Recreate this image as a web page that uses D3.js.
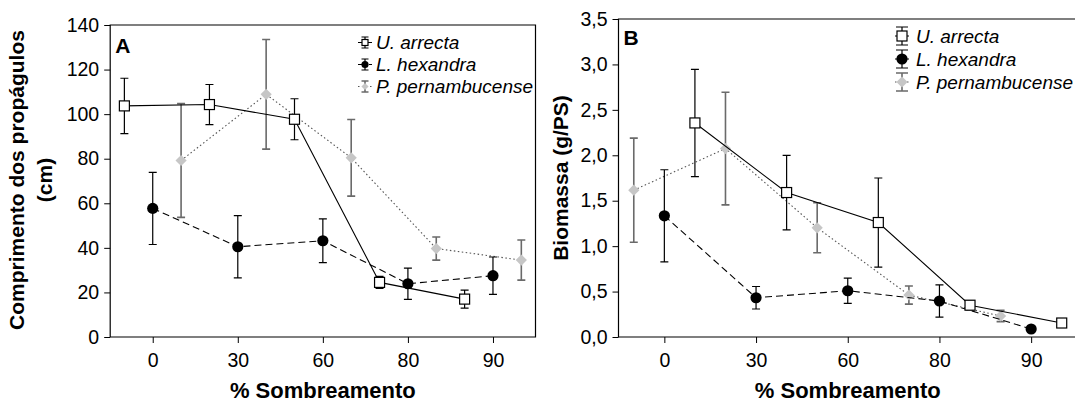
<!DOCTYPE html>
<html>
<head>
<meta charset="utf-8">
<script src="https://cdn.jsdelivr.net/npm/d3@7"></script>
<style>
  body { margin: 0; background: #fff; }
  svg { display: block; font-family: Arial, "Liberation Sans", sans-serif; }
</style>
</head>
<body>
<svg id="chart" width="1075" height="403"></svg>
<script>
// categories on the x axis (% shading)
const categories = ["0", "30", "60", "80", "90"];
const species = ["U. arrecta", "L. hexandra", "P. pernambucense"];

// panel A: propagule length (cm), mean and error
const lenArrecta = [103.7, 104.3, 97.7, 24.5, 17.0];
const lenArrectaErr = [12.4, 9.0, 9.2, 2.7, 4.0];
const lenHexandra = [57.7, 40.5, 43.2, 23.9, 27.5];
const lenHexandraErr = [16.2, 14.0, 9.8, 7.0, 8.4];
const lenPernamb = [79.2, 108.9, 80.4, 39.7, 34.5];
const lenPernambErr = [25.5, 24.6, 17.2, 5.2, 9.0];
const lenTicks = [0, 20, 40, 60, 80, 100, 120, 140];

// panel B: biomass (g/PS), mean and error
const bioArrecta = [2.356, 1.59, 1.26, 0.35, 0.154];
const bioArrectaErr = [0.59, 0.41, 0.49, 0.05, 0.0];
const bioHexandra = [1.334, 0.432, 0.509, 0.396, 0.088];
const bioHexandraErr = [0.507, 0.124, 0.14, 0.178, 0.0];
const bioPernamb = [1.616, 2.074, 1.202, 0.462, 0.231];
const bioPernambErr = [0.573, 0.62, 0.275, 0.1, 0.062];
const bioTicks = [0, 0.5, 1.0, 1.5, 2.0, 2.5, 3.0, 3.5];

const svg = d3.select("#chart");

// style of each series: U, L, P
const styles = [
  { line: "#000", dash: null, bar: "#000", barW: 1.2, marker: "square" },
  { line: "#000", dash: "7,4", bar: "#000", barW: 1.2, marker: "circle" },
  { line: "#555", dash: "1.5,2.5", bar: "#6a6a6a", barW: 1.6, marker: "diamond" }
];

function drawMarker(g, kind, x, y, s) {
  if (kind == "square") {
    g.append("rect")
      .attr("x", x - s / 2).attr("y", y - s / 2)
      .attr("width", s).attr("height", s)
      .attr("fill", "#fff").attr("stroke", "#000").attr("stroke-width", 1.2);
  } else if (kind == "circle") {
    g.append("circle")
      .attr("cx", x).attr("cy", y).attr("r", s / 2 + 0.6)
      .attr("fill", "#000");
  } else {
    const h = s / 2 + 0.6;
    g.append("path")
      .attr("d", `M${x},${y - h}L${x + h},${y}L${x},${y + h}L${x - h},${y}Z`)
      .attr("fill", "#c6c6c6");
  }
}

function drawPanel(p) {
  const x = d3.scaleLinear().domain([-0.5, 4.5]).range([p.left, p.right]);
  const y = d3.scaleLinear().domain([0, p.ymax]).range([p.bottom, p.top]);
  const g = svg.append("g");

  // axes
  g.append("g")
    .attr("transform", `translate(${p.left},0)`)
    .call(d3.axisLeft(y).tickValues(p.ticks).tickSize(6).tickSizeOuter(0)
      .tickPadding(5).tickFormat(p.fmt))
    .call(a => a.select(".domain").remove())
    .call(a => a.selectAll("text").style("font-size", "19.5px").attr("fill", "#000"));

  g.append("g")
    .attr("transform", `translate(0,${p.bottom})`)
    .call(d3.axisBottom(x).tickValues([0, 1, 2, 3, 4]).tickSize(6).tickSizeOuter(0)
      .tickPadding(10).tickFormat(i => categories[i]))
    .call(a => a.select(".domain").remove())
    .call(a => a.selectAll("text").style("font-size", "19.5px").attr("fill", "#000"));

  // box
  g.append("path")
    .attr("d", `M${p.left},${p.top}V${p.bottom}H${p.right}V${p.top}Z`)
    .attr("fill", "none").attr("stroke", "#000").attr("stroke-width", 1.2);

  // series, P first so U sits on top
  [2, 1, 0].forEach(k => {
    const st = styles[k];
    const vals = p.series[k], errs = p.errors[k];
    const px = i => x(i + p.offsets[k]);
    const line = d3.line().x((d, i) => px(i)).y(d => y(d));
    g.append("path")
      .attr("d", line(vals))
      .attr("fill", "none").attr("stroke", st.line).attr("stroke-width", 1.1)
      .attr("stroke-dasharray", st.dash);
    vals.forEach((v, i) => {
      if (errs[i] > 0) {
        const cx = px(i), y0 = y(v - errs[i]), y1 = y(v + errs[i]);
        g.append("path")
          .attr("d", `M${cx},${y0}V${y1}M${cx - 4},${y0}H${cx + 4}M${cx - 4},${y1}H${cx + 4}`)
          .attr("fill", "none").attr("stroke", st.bar).attr("stroke-width", st.barW);
      }
    });
    vals.forEach((v, i) => drawMarker(g, st.marker, px(i), y(v), 10));
  });

  // panel letter
  g.append("text")
    .attr("x", p.left + 5).attr("y", p.letterY)
    .text(p.letter)
    .style("font-size", "21px").style("font-weight", "bold");

  // x axis title
  g.append("text")
    .attr("x", x(2)).attr("y", 398)
    .attr("text-anchor", "middle")
    .text("% Sombreamento")
    .style("font-size", "22px").style("font-weight", "bold");

  // y axis title
  p.ytitle.forEach((t, j) => {
    g.append("text")
      .attr("transform", `translate(${p.ytitleX[j]},${p.ytitleY}) rotate(-90)`)
      .attr("text-anchor", "middle")
      .text(t)
      .style("font-size", "21px").style("font-weight", "bold");
  });

  // legend
  const lg = g.append("g");
  species.forEach((name, k) => {
    const st = styles[k];
    const ly = p.legY + k * p.legStep;
    const ix = p.legX;
    const h = p.legIcon.h, w = p.legIcon.w;
    lg.append("path")
      .attr("d", `M${ix - 7},${ly}H${ix + 7}`)
      .attr("stroke", st.line).attr("stroke-width", 1).attr("stroke-dasharray", st.dash);
    lg.append("path")
      .attr("d", `M${ix},${ly - h}V${ly + h}M${ix - w},${ly - h}H${ix + w}M${ix - w},${ly + h}H${ix + w}`)
      .attr("fill", "none").attr("stroke", st.bar).attr("stroke-width", st.barW);
    drawMarker(lg, st.marker, ix, ly, p.legIcon.s);
    lg.append("text")
      .attr("x", ix + p.legGap).attr("y", ly)
      .attr("dy", "0.35em")
      .text(name)
      .style("font-size", "19px").style("font-style", "italic");
  });
}

drawPanel({
  left: 110.2, right: 535.5, top: 25, bottom: 337, ymax: 140,
  ticks: lenTicks, fmt: d3.format("d"),
  series: [lenArrecta, lenHexandra, lenPernamb],
  errors: [lenArrectaErr, lenHexandraErr, lenPernambErr],
  offsets: [-1 / 3, 0, 1 / 3],
  letter: "A", letterY: 53,
  ytitle: ["Comprimento dos propágulos", "(cm)"], ytitleX: [23.5, 52], ytitleY: 180,
  legX: 365, legY: 42.5, legStep: 22, legGap: 11,
  legIcon: { h: 5.5, w: 3.5, s: 6 }
});

drawPanel({
  left: 618.5, right: 1077, top: 19, bottom: 337, ymax: 3.5,
  ticks: bioTicks, fmt: d => d3.format(".1f")(d).replace(".", ","),
  series: [bioArrecta, bioHexandra, bioPernamb],
  errors: [bioArrectaErr, bioHexandraErr, bioPernambErr],
  offsets: [1 / 3, 0, -1 / 3],
  letter: "B", letterY: 45,
  ytitle: ["Biomassa (g/PS)"], ytitleX: [568], ytitleY: 178,
  legX: 902, legY: 36, legStep: 23, legGap: 14,
  legIcon: { h: 9, w: 6, s: 10 }
});
</script>
</body>
</html>
